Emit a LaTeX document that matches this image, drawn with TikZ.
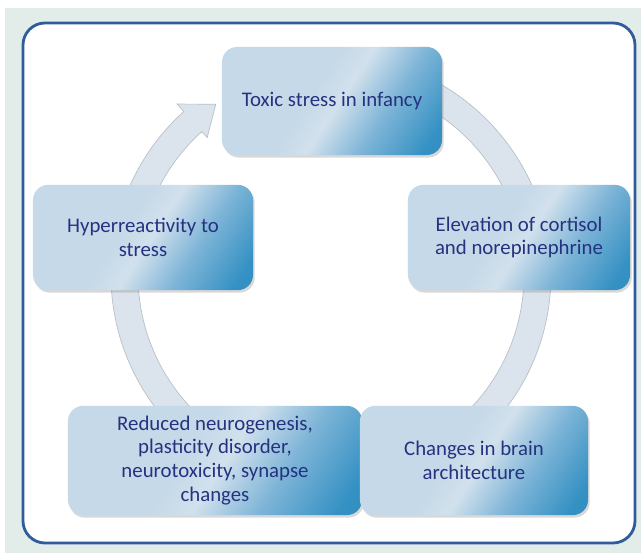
\documentclass[tikz,border=0pt]{standalone}
\usepackage{fontspec}
\setmainfont{Carlito}
\usetikzlibrary{calc,shadows}
\definecolor{textnavy}{RGB}{36,50,128}
\definecolor{boxlight}{RGB}{198,217,232}
\definecolor{boxmid}{RGB}{125,180,215}
\definecolor{boxdark}{RGB}{52,145,195}
\definecolor{ringfill}{RGB}{219,228,236}
\definecolor{ringedge}{RGB}{185,192,200}
\definecolor{framebg}{RGB}{226,237,234}
\definecolor{frameline}{RGB}{48,92,156}
\pgfdeclarehorizontalshading{stageshade}{100bp}{color(0bp)=(boxlight); color(44bp)=(boxlight); color(52bp)=(boxlight!80!white); color(65bp)=(boxmid); color(80bp)=(boxdark); color(100bp)=(boxdark!92!black)}

\begin{document}
\begin{tikzpicture}[x=0.025cm, y=0.025cm,
	stage/.style={rounded corners=0.38cm, shading=stageshade, shading angle=-33, text=textnavy, align=center, inner sep=2pt, font=\fontsize{14.8}{17}\selectfont, minimum height=2.7cm, drop shadow={shadow xshift=1.2pt, shadow yshift=-1.8pt, opacity=0.3}}]
		\useasboundingbox (0,0) rectangle (641,553);
		\fill[framebg] (5,0) rectangle (641,545);
		\draw[frameline, line width=2pt, fill=white, rounded corners=0.55cm] (23,10) rectangle (635,530);
		\begin{scope}[shift={(331,278)}]
		\draw[fill=ringfill, draw=ringedge, line width=0.5pt] (90:220) arc[start angle=90, end angle=-228, radius=220] -- (132:230) -- (124:206) -- (132:185) -- (132:193) arc[start angle=-228, end angle=90, radius=193] -- cycle;
		\end{scope}
		\node[stage, minimum width=5.5cm] at (332,452) (tox) {Toxic stress in infancy};
		\node[stage, minimum width=5.5cm, minimum height=2.63cm] at (143,315.5) (hyp) {Hyperreactivity to\\stress};
		\node[stage, minimum width=5.55cm, minimum height=2.63cm] at (519,315.5) (elev) {Elevation of cortisol\\and norepinephrine};
		\node[stage, minimum width=7.35cm, minimum height=2.73cm] at (215,92.5) (neuro) {Reduced neurogenesis,\\plasticity disorder,\\neurotoxicity, synapse\\changes};
		\node[stage, minimum width=5.7cm, minimum height=2.73cm] at (474,92.5) (brain) {Changes in brain\\architecture};
\end{tikzpicture}
\end{document}
